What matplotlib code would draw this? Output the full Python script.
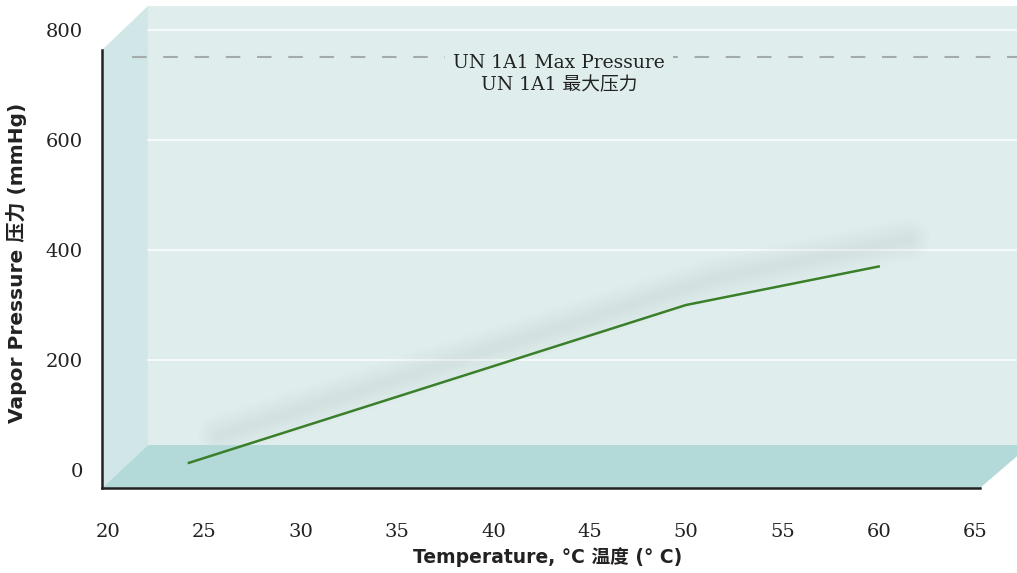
import matplotlib.pyplot as plt
import matplotlib.transforms as mtransforms
from matplotlib.patches import Polygon

# data
temperatura = [24.2, 50, 60]
presion = [13, 300, 370]
max_presion = 750
x_ticks = [20, 25, 30, 35, 40, 45, 50, 55, 60, 65]
y_ticks = [0, 200, 400, 600, 800]

W, H = 1017, 573
fig = plt.figure(figsize=(W / 100, H / 100), dpi=100)

# axes: 20..65 -> px 108..975, 0..800 -> py 470..30
ax = fig.add_axes([108 / W, 1 - 470 / H, (975 - 108) / W, 440 / H])
ax.set_xlim(20, 65)
ax.set_ylim(0, 800)
ax.patch.set_visible(False)
for s in ax.spines.values():
    s.set_visible(False)

# transform en pixeles (y desde arriba)
pix = mtransforms.Affine2D().scale(1 / W, -1 / H).translate(0, 1) + fig.transFigure
blend = mtransforms.blended_transform_factory(pix, ax.transData)

fondo = '#dfeeed'
pared = '#d0e6e7'
piso = '#b3dad9'

def poly(pts, color, z):
    p = Polygon(pts, closed=True, facecolor=color, edgecolor='none',
                transform=pix, zorder=z, clip_on=False)
    ax.add_patch(p)

poly([(148, 6), (1017, 6), (1017, 445), (148, 445)], fondo, 0)
poly([(102, 50), (148, 6), (148, 445), (102, 488)], pared, 0.5)

# grilla en la pared del fondo
for v in y_ticks:
    ax.plot([148, 1017], [v, v], color='white', lw=1.1, alpha=0.9,
            transform=blend, zorder=1, clip_on=False)

poly([(102, 488), (148, 445), (1030, 445), (980, 488)], piso, 2)

# ejes negros
ax.plot([102, 102], [50, 488], color='#222222', lw=1.8, transform=pix,
        zorder=3, clip_on=False)
ax.plot([102, 980], [488, 488], color='#222222', lw=1.8, transform=pix,
        zorder=3, clip_on=False)

# linea de presion maxima
ax.plot([132, 1017], [max_presion, max_presion], color='#a3abab', lw=1.5,
        dashes=(7, 8), transform=blend, zorder=1.5, clip_on=False)
ax.text(559, 74, 'UN 1A1 Max Pressure\nUN 1A1 最大压力', transform=pix,
        ha='center', va='center', fontsize=13.5, linespacing=1.25,
        family=['DejaVu Serif', 'Noto Sans CJK SC'], color='#222222', zorder=4,
        bbox=dict(facecolor=fondo, edgecolor='none', pad=6))

# sombra difusa
sombra = mtransforms.offset_copy(ax.transData, fig=fig, x=30, y=27, units='dots')
for w in [30, 25, 20, 15, 10, 6]:
    ax.plot(temperatura, presion, color='#9aa5a5', alpha=0.025, lw=w,
            solid_capstyle='round', solid_joinstyle='round',
            transform=sombra, zorder=1.8, clip_on=False)

ax.plot(temperatura, presion, color='#3b7f2b', lw=1.8, zorder=5, clip_on=False)

ax.set_xticks(x_ticks)
ax.set_yticks(y_ticks)
ax.tick_params(length=0, labelsize=14, colors='#222222')
ax.tick_params(axis='x', pad=38)
ax.tick_params(axis='y', pad=18)
for lab in ax.get_xticklabels() + ax.get_yticklabels():
    lab.set_family('DejaVu Serif')

fig.text(548 / W, 1 - 557 / H, 'Temperature, °C 温度 (° C)', ha='center',
         va='center', fontsize=13.5, fontweight='bold',
         family=['DejaVu Sans', 'Noto Sans CJK SC'], color='#222222')
fig.text(17 / W, 1 - 263 / H, 'Vapor Pressure 压力 (mmHg)', ha='center',
         va='center', rotation=90, fontsize=14.5, fontweight='bold',
         family=['DejaVu Sans', 'Noto Sans CJK SC'], color='#222222')

fig.savefig('out.png', dpi=100)
